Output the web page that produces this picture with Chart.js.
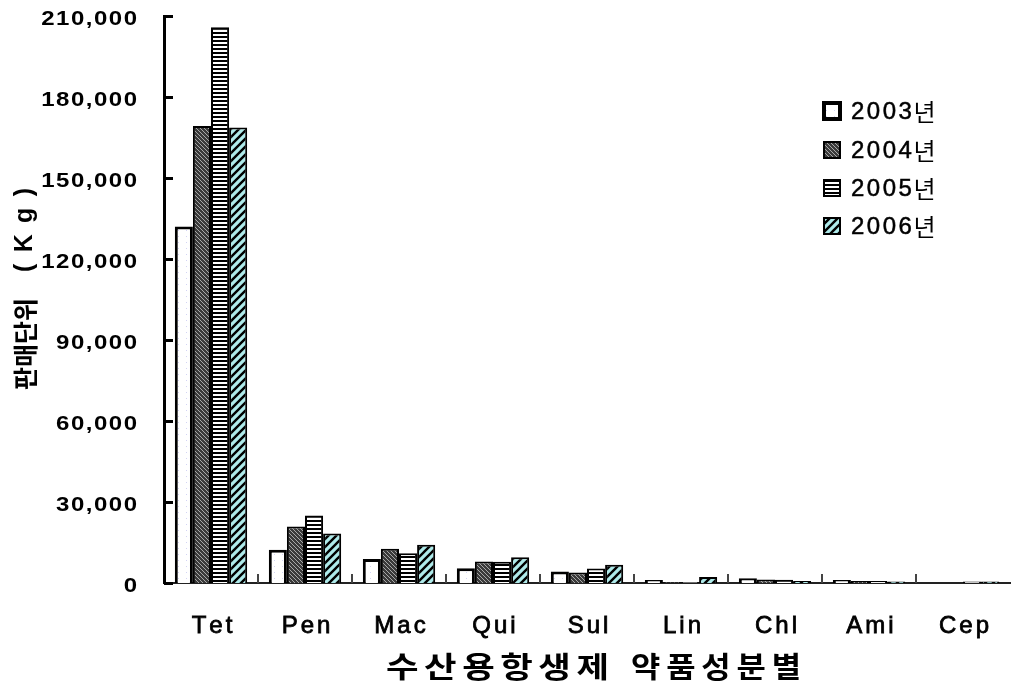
<!DOCTYPE html>
<html lang="ko">
<head>
  <meta charset="UTF-8">
  <title>수산용항생제 약품성분별 판매량</title>
  <script src="https://cdn.jsdelivr.net/npm/chart.js"></script>
  <style>
    html, body { margin: 0; padding: 0; background: #fff; }
    #wrap { width: 1014px; height: 690px; }
  </style>
</head>
<body>
  <div id="wrap"><canvas id="chart" width="1014" height="690"></canvas></div>
  <script>
    // 약품성분 (x축)
    const categories = ["Tet", "Pen", "Mac", "Qui", "Sul", "Lin", "Chl", "Ami", "Cep"];
    const years = ["2003년", "2004년", "2005년", "2006년"];

    // 판매량 (Kg) - 그림에서 읽은 값
    const sales2003 = [132000, 12300, 8900, 5500, 4300, 1100, 1800, 1100, 0];
    const sales2004 = [169300, 20900, 12700, 8000, 3900, 300, 1300, 700, 0];
    const sales2005 = [205800, 25000, 11000, 7900, 5400, 300, 1200, 700, 600];
    const sales2006 = [168700, 18300, 14200, 9500, 6800, 2200, 700, 600, 600];

    const yMax = 210000;
    const yStep = 30000;

    const LATIN = "'Liberation Sans', Arial, sans-serif";
    const HANGUL = "'Noto Sans CJK KR', sans-serif";

    // 막대 무늬 만들기
    function makeTile(w, h, draw) {
      const c = document.createElement("canvas");
      c.width = w; c.height = h;
      const g = c.getContext("2d");
      draw(g);
      return document.createElement("canvas").getContext("2d").createPattern(c, "repeat");
    }
    const pat2003 = makeTile(8, 6, g => {
      g.fillStyle = "#fff"; g.fillRect(0, 0, 8, 6);
      g.fillStyle = "#d4d4f5"; g.fillRect(2, 2, 1, 1);
    });
    const pat2004 = makeTile(4, 4, g => {
      g.fillStyle = "#3a3a3a"; g.fillRect(0, 0, 4, 4);
      g.fillStyle = "#a8a8a8";
      for (let i = 0; i < 4; i++) g.fillRect(i, i, 1, 1);
    });
    const pat2005 = makeTile(4, 4, g => {
      g.fillStyle = "#fff"; g.fillRect(0, 0, 4, 4);
      g.fillStyle = "#000"; g.fillRect(0, 0, 4, 2);
    });
    const pat2006 = makeTile(8, 8, g => {
      g.fillStyle = "#aeeaea"; g.fillRect(0, 0, 8, 8);
      g.strokeStyle = "#000"; g.lineWidth = 2.4;
      g.beginPath();
      g.moveTo(-2, 10); g.lineTo(10, -2);
      g.moveTo(-6, 6); g.lineTo(6, -6);
      g.moveTo(2, 14); g.lineTo(14, 2);
      g.stroke();
    });

    // 글자를 하나씩 (가로 늘림 sx, 간격 spacing) 쓰기
    function spacedText(ctx, text, x, y, spacing, align, sx = 1, stroke = 0) {
      const chars = [...text];
      const widths = chars.map(c => ctx.measureText(c).width * sx);
      const total = widths.reduce((a, b) => a + b, 0) + spacing * (chars.length - 1);
      let cx = align === "center" ? x - total / 2 : align === "right" ? x - total : x;
      ctx.textAlign = "left";
      chars.forEach((c, i) => {
        ctx.save();
        ctx.translate(cx, y);
        ctx.scale(sx, 1);
        ctx.fillText(c, 0, 0);
        if (stroke) { ctx.lineWidth = stroke; ctx.strokeStyle = ctx.fillStyle; ctx.strokeText(c, 0, 0); }
        ctx.restore();
        cx += widths[i] + spacing;
      });
      return cx;
    }
    // x0 ~ x1 범위에 맞춰 쓰기
    function fitText(ctx, text, x0, x1, y, sx) {
      const chars = [...text];
      const sum = chars.reduce((a, c) => a + ctx.measureText(c).width * sx, 0);
      const spacing = (x1 - x0 - sum) / (chars.length - 1);
      spacedText(ctx, text, x0, y, spacing, "left", sx);
    }

    // 눈금, 글자, 범례
    const decorPlugin = {
      id: "decor",
      afterDraw(chart) {
        const ctx = chart.ctx;
        const y = chart.scales.y, x = chart.scales.x;
        const left = chart.chartArea.left, bottom = chart.chartArea.bottom;
        ctx.save();
        ctx.fillStyle = "#000";
        ctx.textBaseline = "middle";

        // y축 눈금 (안쪽) + 값
        ctx.strokeStyle = "#000";
        ctx.lineWidth = 3;
        y.ticks.forEach(t => {
          const py = Math.round(y.getPixelForValue(t.value)) + 0.5;
          ctx.beginPath(); ctx.moveTo(left, py); ctx.lineTo(left + 9, py); ctx.stroke();
        });
        ctx.font = "bold 20px " + LATIN;
        y.ticks.forEach(t => {
          const py = Math.round(y.getPixelForValue(t.value));
          spacedText(ctx, t.value.toLocaleString("en-US"), 137, py + 3, 1.5, "right", 1.2);
        });

        // x축 구분 눈금 + 성분명
        ctx.lineWidth = 2;
        ctx.strokeStyle = "#444";
        for (let i = 1; i < categories.length; i++) {
          const px = Math.round((x.getPixelForTick(i - 1) + x.getPixelForTick(i)) / 2);
          ctx.beginPath(); ctx.moveTo(px, bottom); ctx.lineTo(px, bottom - 9); ctx.stroke();
        }
        ctx.font = "24px " + LATIN;
        categories.forEach((c, i) => {
          spacedText(ctx, c, x.getPixelForTick(i) + 1, 626, 3, "center", 1, 0.8);
        });

        // x축 제목
        ctx.font = "bold 29px " + HANGUL;
        fitText(ctx, "수산용항생제", 386, 609, 667, 1.22);
        fitText(ctx, "약품성분별", 631, 801, 667, 1.1);

        // y축 제목 (세로)
        ctx.translate(25, 390);
        ctx.rotate(-Math.PI / 2);
        ctx.font = "bold 25px " + HANGUL;
        fitText(ctx, "판매단위", 0, 92, 0, 1);
        ctx.font = "bold 25px " + LATIN;
        fitText(ctx, "(Kg)", 118, 202, 0, 1);
        ctx.setTransform(1, 0, 0, 1, 0, 0);

        // 범례
        const lx = 824, ly = [111, 150, 188, 226];
        chart.data.datasets.forEach((ds, i) => {
          ctx.fillStyle = ds.backgroundColor;
          ctx.fillRect(lx, ly[i] - 8, 16, 16);
          ctx.lineWidth = i === 0 ? 4 : 2;
          ctx.strokeStyle = "#000";
          ctx.strokeRect(lx, ly[i] - 8, 16, 16);
          ctx.fillStyle = "#000";
          ctx.font = "24px " + LATIN;
          const end = spacedText(ctx, ds.label.slice(0, 4), lx + 27, ly[i] + 1, 2.5, "left", 1, 0.5);
          ctx.font = "24px " + HANGUL;
          ctx.fillText(ds.label.slice(4), end - 1, ly[i] + 1);
        });
        ctx.restore();
      }
    };

    new Chart(document.getElementById("chart"), {
      type: "bar",
      data: {
        labels: categories,
        datasets: [
          { label: years[0], data: sales2003, backgroundColor: pat2003, borderColor: "#000", borderWidth: 3 },
          { label: years[1], data: sales2004, backgroundColor: pat2004, borderColor: "#000", borderWidth: 2 },
          { label: years[2], data: sales2005, backgroundColor: pat2005, borderColor: "#000", borderWidth: 2 },
          { label: years[3], data: sales2006, backgroundColor: pat2006, borderColor: "#000", borderWidth: 2 }
        ]
      },
      plugins: [decorPlugin],
      options: {
        responsive: false,
        animation: false,
        layout: { padding: { top: 16, right: 4, left: 0, bottom: 0 } },
        plugins: { legend: { display: false }, tooltip: { enabled: false } },
        datasets: { bar: { categoryPercentage: 0.77, barPercentage: 1.0, borderSkipped: "bottom" } },
        scales: {
          x: {
            grid: { display: false, drawTicks: false },
            border: { display: true, color: "#222", width: 2 },
            ticks: { display: false },
            afterFit(scale) { scale.height = 107; scale.paddingLeft = 0; scale.paddingRight = 0; }
          },
          y: {
            min: 0, max: yMax,
            grid: { display: false, drawTicks: false },
            border: { display: true, color: "#000", width: 3 },
            ticks: { display: false, stepSize: yStep },
            afterFit(scale) { scale.width = 164; scale.paddingTop = 0; scale.paddingBottom = 0; }
          }
        }
      }
    });
  </script>
</body>
</html>
